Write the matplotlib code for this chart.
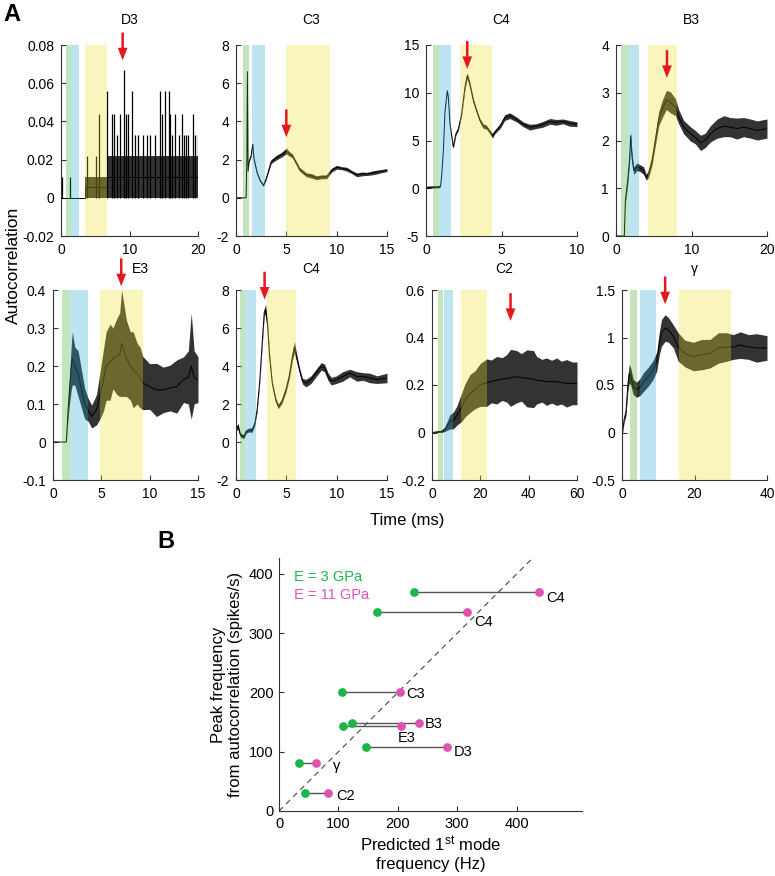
import matplotlib.pyplot as plt
import numpy as np

plt.rcParams['font.family'] = ['Liberation Sans', 'DejaVu Sans']
plt.rcParams['mathtext.default'] = 'regular'
plt.rcParams['font.size'] = 10

# ---------------- panel A: autocorrelation traces (time in ms) ----------------
titles = ['D3', 'C3', 'C4', 'B3', 'E3', 'C4', 'C2', 'γ']

# D3 is quantised: a body band plus single spikes
d3_t = [0, 3.5, 3.5, 6.7, 6.7, 20]
d3_val = [0, 0, 0.0055, 0.0055, 0.011, 0.011]
d3_noise = [0, 0, 0.0055, 0.0055, 0.011, 0.011]
d3_spk_t = [0.15, 1.3, 3.85, 5.1, 5.55, 6.7, 7.5, 7.8, 8.2, 8.6, 9.2, 9.5, 9.8, 10.3, 10.8,
            11.2, 12.0, 12.5, 13.0, 13.7, 14.5, 14.8, 15.2, 15.7, 15.9, 16.2, 16.6, 17.2,
            17.6, 17.9, 18.2, 18.6, 19.2, 19.5, 20.0]
d3_spk_y = [0.011, 0.011, 0.022, 0.022, 0.044, 0.056, 0.044, 0.044, 0.033, 0.044, 0.067, 0.044,
            0.044, 0.056, 0.033, 0.033, 0.033, 0.033, 0.033, 0.033, 0.056, 0.044, 0.056, 0.056,
            0.044, 0.033, 0.044, 0.033, 0.044, 0.033, 0.033, 0.033, 0.044, 0.033, 0.033]

c3_t = [0, 1.0, 1.08, 1.13, 1.2, 1.3, 1.5, 1.66, 1.8, 2.1, 2.4, 2.72, 3.0, 3.5, 4.0, 4.5, 5.0,
        5.3, 5.6, 6.0, 6.3, 7.0, 7.5, 8.0, 8.5, 9.0, 9.5, 10.0, 10.5, 11.0, 11.5, 12.0, 12.5,
        13.0, 13.5, 14.0, 14.5, 15.0]
c3_val = [0, 0, 2.0, 6.6, 1.4, 1.9, 2.2, 2.8, 2.0, 1.3, 0.9, 0.65, 1.0, 1.9, 2.1, 2.25, 2.45,
          2.3, 2.2, 1.8, 1.5, 1.2, 1.15, 1.05, 1.1, 1.1, 1.45, 1.6, 1.55, 1.5, 1.35, 1.2, 1.25,
          1.25, 1.3, 1.35, 1.4, 1.45]
c3_noise = [0, 0, 0, 0, 0.05, 0.05, 0.05, 0.05, 0.05, 0.05, 0.05, 0.05, 0.05, 0.1, 0.12, 0.12,
            0.15, 0.12, 0.1, 0.1, 0.1, 0.1, 0.12, 0.1, 0.1, 0.1, 0.1, 0.1, 0.08, 0.1, 0.08, 0.1,
            0.1, 0.08, 0.1, 0.1, 0.08, 0.08]

c4a_t = [0, 0.9, 0.97, 1.04, 1.15, 1.26, 1.41, 1.48, 1.59, 1.72, 1.81, 1.98, 2.14, 2.36, 2.58,
         2.73, 2.9, 3.13, 3.35, 3.57, 3.79, 4.0, 4.23, 4.4, 4.56, 4.9, 5.22, 5.55, 6.0, 6.43,
         6.87, 7.3, 7.75, 8.2, 8.63, 9.07, 9.5, 10.0]
c4a_val = [0.1, 0.15, 0.3, 1.4, 3.9, 8.1, 10.2, 9.5, 6.7, 5.3, 4.3, 5.7, 6.2, 7.8, 10.6, 11.8,
           10.9, 9.2, 8.1, 7.1, 6.5, 6.4, 5.9, 5.5, 5.9, 6.5, 7.4, 7.6, 7.2, 6.7, 6.4, 6.5, 6.7,
           7.0, 6.9, 7.0, 6.8, 6.7]
c4a_noise = [0.1, 0.1, 0.05, 0.05, 0.05, 0.05, 0.1, 0.1, 0.1, 0.1, 0.1, 0.15, 0.15, 0.2, 0.25,
             0.3, 0.25, 0.2, 0.2, 0.2, 0.25, 0.2, 0.2, 0.25, 0.2, 0.25, 0.3, 0.3, 0.25, 0.25,
             0.3, 0.25, 0.3, 0.3, 0.3, 0.25, 0.3, 0.25]

b3_t = [0, 1.1, 1.24, 1.55, 1.81, 1.94, 2.12, 2.34, 2.78, 3.2, 3.66, 4.0, 4.3, 4.77, 5.2, 5.65,
        6.1, 6.67, 7.2, 7.86, 8.3, 8.96, 9.85, 10.5, 11.2, 11.8, 12.5, 13.4, 14.3, 15.1, 16.0,
        16.9, 17.8, 18.7, 20.0]
b3_val = [0, 0, 0.74, 1.16, 1.65, 2.1, 1.65, 1.37, 1.45, 1.42, 1.37, 1.23, 1.3, 1.58, 2.0, 2.45,
          2.65, 2.85, 2.8, 2.7, 2.5, 2.28, 2.14, 2.07, 1.95, 2.0, 2.14, 2.25, 2.3, 2.28, 2.25,
          2.28, 2.25, 2.21, 2.25]
b3_noise = [0, 0, 0.05, 0.08, 0.1, 0.08, 0.1, 0.08, 0.08, 0.07, 0.08, 0.06, 0.08, 0.1, 0.12,
            0.15, 0.18, 0.2, 0.22, 0.18, 0.15, 0.14, 0.15, 0.14, 0.16, 0.15, 0.17, 0.2, 0.22,
            0.2, 0.22, 0.2, 0.2, 0.2, 0.2]

e3_t = [0, 1.38, 1.56, 1.73, 1.9, 2.0, 2.25, 2.6, 2.94, 3.29, 3.63, 4.0, 4.5, 4.84, 5.2, 5.5,
        5.9, 6.2, 6.6, 6.9, 7.1, 7.6, 8.0, 8.3, 8.7, 9.0, 9.3, 10.0, 10.7, 11.4, 12.1, 12.8,
        13.5, 14.0, 14.3, 14.6, 15.0]
e3_val = [0, 0, 0.085, 0.146, 0.2, 0.22, 0.2, 0.18, 0.14, 0.10, 0.085, 0.067, 0.085, 0.12, 0.16,
          0.2, 0.21, 0.22, 0.225, 0.23, 0.26, 0.22, 0.2, 0.19, 0.18, 0.17, 0.155, 0.146, 0.137,
          0.137, 0.142, 0.146, 0.164, 0.17, 0.2, 0.17, 0.164]
e3_noise = [0, 0, 0.02, 0.04, 0.06, 0.07, 0.05, 0.06, 0.05, 0.04, 0.03, 0.03, 0.04, 0.06, 0.08,
            0.09, 0.1, 0.08, 0.1, 0.11, 0.14, 0.1, 0.09, 0.1, 0.08, 0.08, 0.07, 0.06, 0.07, 0.06,
            0.06, 0.07, 0.06, 0.07, 0.14, 0.07, 0.06]

c4b_t = [0, 0.2, 0.43, 0.77, 1.0, 1.27, 1.6, 1.87, 2.1, 2.37, 2.6, 2.8, 2.94, 3.14, 3.34, 3.6,
         3.95, 4.2, 4.55, 4.95, 5.28, 5.6, 5.8, 6.0, 6.3, 6.6, 6.95, 7.45, 7.95, 8.46, 8.8,
         9.13, 9.46, 9.97, 10.6, 11.3, 12.0, 12.6, 13.3, 14.0, 15.0]
c4b_val = [0.63, 0.85, 0.37, 0.28, 0.55, 0.63, 0.63, 0.99, 1.7, 3.28, 5.2, 6.8, 7.0, 6.1, 4.5,
           3.1, 2.2, 1.87, 2.13, 2.75, 3.45, 4.5, 5.0, 4.5, 3.8, 3.2, 3.1, 3.28, 3.63, 3.98, 3.9,
           3.45, 3.2, 3.28, 3.45, 3.63, 3.45, 3.45, 3.37, 3.28, 3.37]
c4b_noise = [0.1, 0.15, 0.1, 0.1, 0.1, 0.1, 0.12, 0.1, 0.1, 0.1, 0.15, 0.2, 0.25, 0.15, 0.1, 0.1,
             0.12, 0.12, 0.12, 0.15, 0.15, 0.2, 0.3, 0.2, 0.15, 0.15, 0.2, 0.2, 0.2, 0.2, 0.2,
             0.2, 0.2, 0.2, 0.25, 0.2, 0.25, 0.2, 0.25, 0.2, 0.25]

c2_t = [0, 4.0, 5.4, 7.4, 8.8, 10.2, 12.3, 13.7, 15.7, 17.8, 19.9, 22.6, 24.5, 26.8, 29.0, 30.9,
        32.5, 35.0, 37.0, 39.2, 42.0, 43.3, 45.5, 47.4, 49.5, 51.6, 53.5, 55.7, 58.0, 60.0]
c2_val = [0, 0.005, 0.015, 0.045, 0.05, 0.07, 0.107, 0.136, 0.164, 0.18, 0.2, 0.21, 0.215, 0.22,
          0.225, 0.228, 0.23, 0.235, 0.232, 0.228, 0.225, 0.22, 0.218, 0.214, 0.214, 0.214,
          0.21, 0.207, 0.207, 0.207]
c2_noise = [0, 0.005, 0.01, 0.03, 0.035, 0.04, 0.06, 0.07, 0.08, 0.08, 0.09, 0.1, 0.09, 0.1,
            0.09, 0.1, 0.12, 0.11, 0.1, 0.12, 0.12, 0.1, 0.09, 0.1, 0.09, 0.1, 0.09, 0.1, 0.09,
            0.09]

g_t = [0, 0.2, 0.55, 1.1, 1.65, 2.0, 2.4, 3.1, 4.0, 5.0, 5.9, 7.3, 8.6, 9.6, 10.3, 10.9, 11.9,
       12.8, 14.2, 15.5, 17.4, 19.7, 22.0, 24.3, 26.6, 28.9, 30.7, 32.6, 34.9, 37.1, 40.0]
g_val = [0, 0, 0.13, 0.22, 0.52, 0.62, 0.59, 0.48, 0.45, 0.48, 0.53, 0.59, 0.66, 0.75, 0.94,
         1.05, 1.1, 1.08, 1.01, 0.9, 0.83, 0.8, 0.82, 0.83, 0.89, 0.9, 0.9, 0.92, 0.9, 0.89, 0.89]
g_noise = [0, 0, 0.03, 0.04, 0.08, 0.1, 0.09, 0.08, 0.08, 0.09, 0.1, 0.1, 0.1, 0.1, 0.12, 0.14,
           0.14, 0.13, 0.12, 0.15, 0.14, 0.15, 0.16, 0.15, 0.16, 0.15, 0.13, 0.14, 0.13, 0.15,
           0.13]

# shaded windows (ms): green, blue, yellow
green_win = [(0.68, 1.41), (0.66, 1.26), (0.44, 0.86), (0.71, 1.55),
             (0.97, 1.8), (0.4, 0.87), (2.3, 4.4), (2.2, 4.2)]
blue_win = [(1.41, 2.62), (1.56, 2.89), (0.86, 1.67), (1.55, 3.0),
            (1.8, 3.6), (0.94, 1.94), (4.8, 8.8), (5.0, 9.5)]
yellow_win = [(3.54, 6.7), (4.95, 9.37), (2.25, 4.34), (4.24, 8.08),
              (4.84, 9.27), (3.08, 5.95), (12.0, 22.9), (15.6, 30.0)]

# red arrows: peak time and value
peak_t = [9.0, 5.0, 2.73, 6.75, 7.06, 2.84, 32.5, 11.9]
peak_y = [0.072, 3.17, 12.5, 3.31, 0.41, 7.5, 0.47, 1.35]

xlims = [20, 15, 10, 20, 15, 15, 60, 40]
xstep = [10, 5, 5, 10, 5, 5, 20, 20]
ylims = [(-0.02, 0.08), (-2, 8), (-5, 15), (0, 4), (-0.1, 0.4), (-2, 8), (-0.2, 0.6), (-0.5, 1.5)]
ystep = [0.02, 2, 5, 1, 0.1, 2, 0.2, 0.5]

traces = [(d3_t, d3_val, d3_noise), (c3_t, c3_val, c3_noise), (c4a_t, c4a_val, c4a_noise),
          (b3_t, b3_val, b3_noise), (e3_t, e3_val, e3_noise), (c4b_t, c4b_val, c4b_noise),
          (c2_t, c2_val, c2_noise), (g_t, g_val, g_noise)]

# ---------------- panel B ----------------
b_names = ['C4', 'C4', 'C3', 'B3', 'E3', 'D3', 'γ', 'C2']
b_pred3 = [228, 165, 106, 123, 107, 147, 33, 43]
b_pred11 = [438, 316, 204, 235, 205, 282, 62, 83]
b_peak = [369, 336, 200, 148, 143, 107.5, 81.5, 31]
lab_dx = [12, 12, 11, 10, -5, 12, 28, 14]
lab_dy = [-10, -17, -3, -1, -20, -8, -5, -5]

W, H = 775, 876
fig = plt.figure(figsize=(W / 100, H / 100), dpi=100)

boxes = [(61, 45, 137, 191), (236, 45, 151, 191), (426, 45, 151, 191), (616, 45, 151, 191),
         (53, 290, 145, 190), (236, 290, 151, 190), (432, 290, 145, 190), (622, 290, 145, 190)]

c_green = (62 / 255, 168 / 255, 38 / 255)
c_blue = (38 / 255, 172 / 255, 211 / 255)
c_yellow = (238 / 255, 225 / 255, 35 / 255)
red = '#e3191f'


def style(ax, fs, pad):
    for s in ['top', 'right']:
        ax.spines[s].set_visible(False)
    for s in ['left', 'bottom']:
        ax.spines[s].set_linewidth(0.8)
        ax.spines[s].set_color('#333333')
    ax.tick_params(direction='in', length=3.5, width=0.8, labelsize=fs, color='#333333', pad=pad)


for i in range(8):
    x0, y0, w, h = boxes[i]
    ax = fig.add_axes([x0 / W, 1 - (y0 + h) / H, w / W, h / H])
    t, v, n = traces[i]
    t = np.array(t)
    v = np.array(v)
    n = np.array(n)
    ax.fill_between(t, v - n, v + n, color='k', lw=0, alpha=0.8, zorder=2)
    ax.plot(t, v, color='k', lw=0.7, zorder=2)
    if i == 0:
        ax.vlines(d3_spk_t, 0, d3_spk_y, color='k', lw=0.9, zorder=2)
    for wins, col in [(green_win, c_green), (blue_win, c_blue), (yellow_win, c_yellow)]:
        ax.axvspan(wins[i][0], wins[i][1], color=col, alpha=0.3, lw=0, zorder=3)
    ax.annotate('', xy=(peak_t[i], peak_y[i]), xytext=(0, 20), textcoords='offset points',
                arrowprops=dict(facecolor=red, edgecolor='none', width=1.8, headwidth=7,
                                headlength=9, shrink=0),
                annotation_clip=False, zorder=5)
    ax.set_xlim(0, xlims[i])
    ax.set_ylim(*ylims[i])
    ax.set_xticks(np.arange(0, xlims[i] + 0.1, xstep[i]))
    yt = np.arange(ylims[i][0], ylims[i][1] + ystep[i] / 2, ystep[i])
    ax.set_yticks(yt)
    ax.set_yticklabels(['%g' % round(y, 3) for y in yt])
    ax.set_xticklabels(['%g' % x for x in ax.get_xticks()])
    if i < 4:
        ax.set_title(titles[i], fontsize=10, pad=15)
    elif i == 4:
        ax.set_title(titles[i], fontsize=10, pad=12, x=0.6)
    else:
        ax.set_title(titles[i], fontsize=10, pad=12)
    style(ax, 10, 5)

fig.text(0.004, 0.997, 'A', fontsize=17, fontweight='bold', va='top')
fig.text(13 / W, 1 - 265 / H, 'Autocorrelation', rotation=90, fontsize=12.5, va='center', ha='center')
fig.text(407 / W, 1 - 520 / H, 'Time (ms)', fontsize=12, ha='center', va='center')
fig.text(157 / W, 1 - 542 / H, 'B', fontsize=17, fontweight='bold', va='center')

# ---------------- panel B plot ----------------
axb = fig.add_axes([279 / W, 1 - 811 / H, 303 / W, 253 / H])
axb.plot([0, 425], [0, 425], ls=(0, (5, 4)), color='#444444', lw=0.8, zorder=1)
green = '#1db54a'
pink = '#e052b2'
for i in range(len(b_names)):
    axb.plot([b_pred3[i], b_pred11[i]], [b_peak[i], b_peak[i]], color='#555555', lw=1, zorder=2)
axb.plot(b_pred3, b_peak, 'o', color=green, ms=6.3, mec='none', zorder=3)
axb.plot(b_pred11, b_peak, 'o', color=pink, ms=6.3, mec='none', zorder=3)
for i in range(len(b_names)):
    axb.text(b_pred11[i] + lab_dx[i], b_peak[i] + lab_dy[i], b_names[i], fontsize=10.5,
             ha='left', va='center')
axb.text(25, 395, 'E = 3 GPa', color=green, fontsize=10.5, va='center')
axb.text(25, 365, 'E = 11 GPa', color=pink, fontsize=10.5, va='center')
axb.set_xlim(0, 510)
axb.set_ylim(0, 427)
axb.set_xticks([0, 100, 200, 300, 400])
axb.set_yticks([0, 100, 200, 300, 400])
axb.set_xlabel('Predicted 1$^{st}$ mode\nfrequency (Hz)', fontsize=12, labelpad=3)
axb.set_ylabel('Peak frequency\nfrom autocorrelation (spikes/s)', fontsize=12, labelpad=4)
style(axb, 10.5, 4)

fig.savefig('out.png', dpi=100)
